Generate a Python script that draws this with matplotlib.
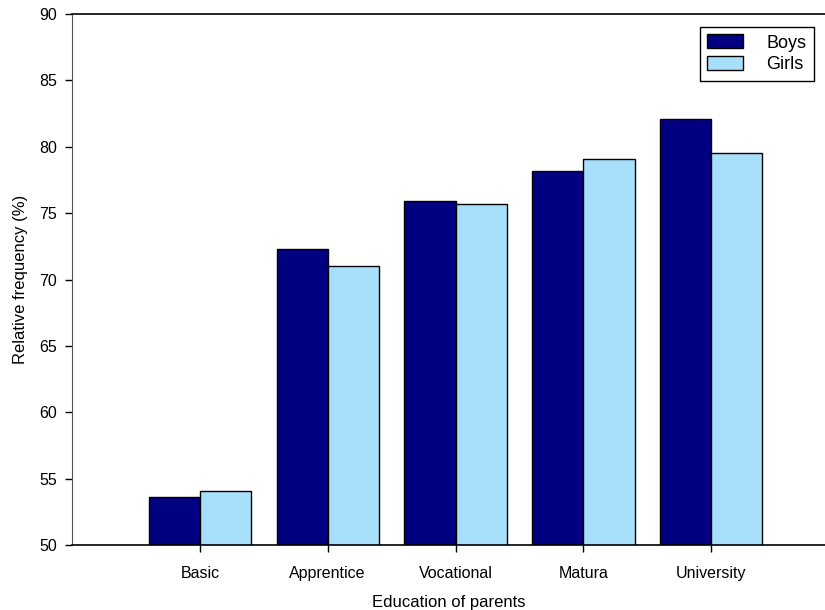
import numpy as np
import matplotlib.pyplot as plt

plt.rcParams['font.family'] = ['Liberation Sans', 'DejaVu Sans']

categories = ['Basic', 'Apprentice', 'Vocational', 'Matura', 'University']
boys = [53.6, 72.3, 75.9, 78.2, 82.1]
girls = [54.1, 71.0, 75.7, 79.1, 79.5]

fig = plt.figure(figsize=(8.25, 6.1), dpi=100)
ax = fig.add_axes([72 / 825, 65 / 610, 1 - 72 / 825, 531 / 610])

x = np.arange(len(categories))
w = 0.4
ax.bar(x - w / 2, boys, w, color='#000080', edgecolor='black', linewidth=1, label='Boys')
ax.bar(x + w / 2, girls, w, color='#A8E0FC', edgecolor='black', linewidth=1, label='Girls')

ax.set_ylim(50, 90)
ax.set_xlim(-1.0, 4.89)
ax.set_yticks(range(50, 91, 5))
ax.set_xticks(x)
ax.set_xticklabels(categories)
ax.tick_params(axis='both', labelsize=11.5, length=5, width=1, direction='out', pad=6)
ax.tick_params(axis='x', pad=10)

ax.spines['right'].set_visible(False)
ax.spines['left'].set_color('#555555')
for s in ['top', 'bottom']:
    ax.spines[s].set_linewidth(1.2)

ax.set_xlabel('Education of parents', fontsize=12, labelpad=10)
ax.set_ylabel('Relative frequency (%)', fontsize=12, labelpad=8)

leg = ax.legend(loc='upper right', bbox_to_anchor=(0.985, 0.975), borderaxespad=0,
                fontsize=13, fancybox=False, edgecolor='black', framealpha=1,
                handlelength=2.0, handleheight=0.8, borderpad=0.4, labelspacing=0.25,
                handletextpad=1.3)
leg.get_frame().set_linewidth(1)

fig.savefig('out.png', dpi=100)
